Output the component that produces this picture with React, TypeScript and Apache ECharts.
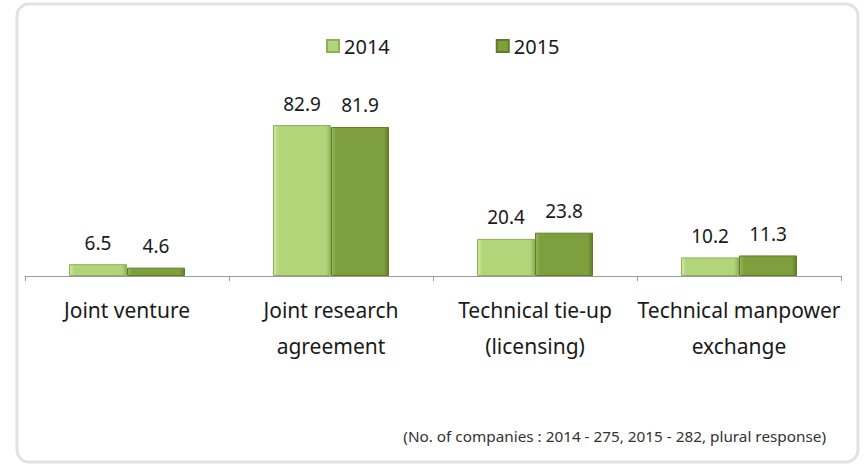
import React, { useEffect, useRef } from "react";
import * as echarts from "echarts";

const categories = ["Joint venture", "Joint research\nagreement", "Technical tie-up\n(licensing)", "Technical manpower\nexchange"];
const values2014 = [6.5, 82.9, 20.4, 10.2];
const values2015 = [4.6, 81.9, 23.8, 11.3];
const seriesNames = ["2014", "2015"];
const footnote = "(No. of companies : 2014 - 275, 2015 - 282, plural response)";

const FONT = "Noto Sans";

export default function App() {
  const ref = useRef<HTMLDivElement>(null);
  useEffect(() => {
    if (!ref.current) return;
    const chart = echarts.init(ref.current, null, { renderer: "svg" });
    const barStyle = (light: string, main: string, dark: string) => ({
      color: new echarts.graphic.LinearGradient(0, 0, 1, 0, [
        { offset: 0, color: light },
        { offset: 0.08, color: main },
        { offset: 0.92, color: main },
        { offset: 1, color: dark },
      ]),
      borderColor: dark,
      borderWidth: 1,
    });
    const valueLabel = { show: true, position: "top", distance: 12, fontSize: 19, color: "#1a1a1a", fontFamily: FONT };
    chart.setOption({
      animation: false,
      backgroundColor: "#ffffff",
      textStyle: { fontFamily: FONT },
      graphic: [
        {
          type: "rect",
          shape: { x: 17, y: 4, width: 841, height: 458, r: 12 },
          style: { fill: "none", stroke: "#e2e2e2", lineWidth: 3 },
          silent: true,
        },
        {
          type: "text",
          right: 38,
          top: 428,
          style: { text: footnote, font: `15.3px "${FONT}"`, fill: "#333" },
        },
      ],
      legend: {
        top: 31,
        left: 321,
        itemGap: 106,
        itemWidth: 12,
        itemHeight: 12,
        icon: "rect",
        textStyle: { fontSize: 20, color: "#1a1a1a", fontFamily: FONT },
        data: seriesNames,
      },
      grid: { left: 25, right: 23, top: 94, bottom: 188, containLabel: false },
      xAxis: {
        type: "category",
        data: categories,
        axisLine: { lineStyle: { color: "#9a9a9a" } },
        axisTick: { show: true, lineStyle: { color: "#9a9a9a" }, length: 5 },
        axisLabel: { fontSize: 21, color: "#1a1a1a", lineHeight: 36, margin: 16, interval: 0, fontFamily: FONT },
      },
      yAxis: { type: "value", min: 0, max: 100, show: false, splitLine: { show: false } },
      series: [
        {
          name: seriesNames[0],
          type: "bar",
          data: values2014,
          barWidth: 58,
          barGap: "0%",
          itemStyle: barStyle("#d3eba6", "#b3d57a", "#8fb05a"),
          label: valueLabel,
        },
        {
          name: seriesNames[1],
          type: "bar",
          data: values2015,
          barWidth: 58,
          barGap: "0%",
          itemStyle: barStyle("#98b85a", "#7e9f3d", "#5f7d28"),
          label: valueLabel,
        },
      ],
    });
    return () => chart.dispose();
  }, []);
  return <div ref={ref} style={{ width: 864, height: 464, position: "absolute", left: 0, top: 0 }} />;
}
